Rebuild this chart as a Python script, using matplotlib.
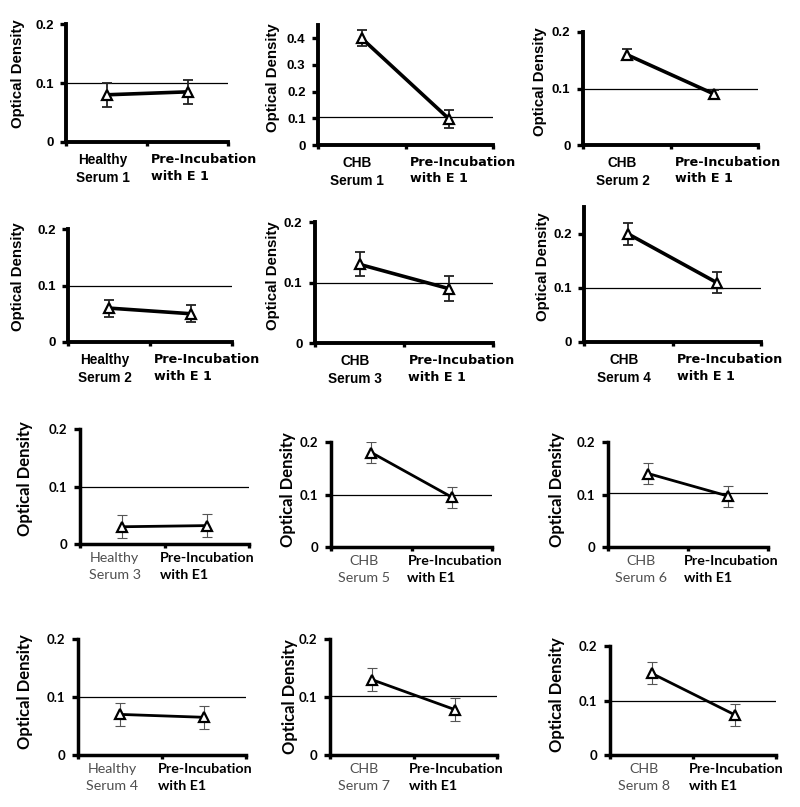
import matplotlib
matplotlib.use("Agg")
import matplotlib.pyplot as plt
from matplotlib.ticker import FixedLocator, NullFormatter

# ---------------- data ----------------
sample_labels = ["Healthy\nSerum 1", "CHB\nSerum 1", "CHB\nSerum 2",
                 "Healthy\nSerum 2", "CHB\nSerum 3", "CHB\nSerum 4",
                 "Healthy\nSerum 3", "CHB\nSerum 5", "CHB\nSerum 6",
                 "Healthy\nSerum 4", "CHB\nSerum 7", "CHB\nSerum 8"]
preinc_labels = ["Pre-Incubation\nwith E 1"] * 6 + ["Pre-Incubation\nwith E1"] * 6
od_serum = [0.080, 0.400, 0.160, 0.060, 0.130, 0.200,
            0.030, 0.180, 0.140, 0.070, 0.130, 0.150]
od_preinc = [0.085, 0.097, 0.090, 0.050, 0.090, 0.110,
             0.032, 0.095, 0.097, 0.065, 0.078, 0.074]
err_serum = [0.020, 0.030, 0.010, 0.015, 0.020, 0.020,
             0.020, 0.020, 0.020, 0.020, 0.020, 0.020]
err_preinc = [0.020, 0.033, 0.008, 0.015, 0.020, 0.020,
              0.020, 0.020, 0.020, 0.020, 0.020, 0.020]
cutoff = [0.100, 0.106, 0.100, 0.100, 0.100, 0.100,
          0.100, 0.100, 0.102, 0.100, 0.102, 0.100]
ymax = [0.2, 0.45, 0.2, 0.2, 0.2, 0.25,
        0.2, 0.2, 0.2, 0.2, 0.2, 0.2]
ytick_max = [0.2, 0.4, 0.2, 0.2, 0.2, 0.2,
             0.2, 0.2, 0.2, 0.2, 0.2, 0.2]
ylabel = "Optical Density"

# ---------------- layout (pixels: left, right, top, bottom) ----------------
W, H = 800, 807
rects_px = [(66, 228, 24, 142), (318, 493, 25, 145), (583, 758, 32, 145),
            (68, 232, 229, 342), (315, 493, 222, 343), (584, 761, 207, 342),
            (80, 249, 429, 544), (331, 492, 442, 547), (608, 768, 442, 547),
            (78, 246, 639, 755), (330, 497, 639, 755), (610, 776, 646, 755)]
ylabel_off = [41, 38, 36, 43, 35, 34, 47, 35, 43, 45, 32, 45]
ylabel_y = [0.58, 0.56, 0.56, 0.58, 0.56, 0.56, 0.57, 0.55, 0.55, 0.55, 0.5, 0.55]

fig = plt.figure(figsize=(W / 100, H / 100), dpi=100)
fig.patch.set_facecolor("white")

for i in range(12):
    l, r, t, b = rects_px[i]
    ax = fig.add_axes([l / W, 1 - b / H, (r - l) / W, (b - t) / H])
    top_style = i < 6
    if top_style:
        tick_font = dict(family="Liberation Sans", weight="bold", size=9.5)
        lab_font = dict(family="Liberation Sans", weight="bold", size=10.8)
        s_font = dict(family="Liberation Sans", weight="bold", size=9.8, color="black")
        p_font = dict(family="DejaVu Sans", weight="bold", size=9.2, color="black")
        spine_w, line_w, err_w, err_c = 2.8, 2.6, 1.3, "#222222"
        ls = 1.35
        x_s, x_p = 0.45, 1.05
    else:
        tick_font = dict(family="Lato", weight="bold", size=9.5)
        lab_font = dict(family="Lato", weight="bold", size=12)
        s_font = dict(family="Lato", weight="normal", size=10.3, color="#505050")
        p_font = dict(family="Lato", weight="bold", size=10.3, color="black")
        spine_w, line_w, err_w, err_c = 2.5, 2.0, 0.8, "#555555"
        ls = 1.5
        x_s, x_p = 0.41, 0.95

    xs = [0.5, 1.5]
    ax.axhline(cutoff[i], color="black", lw=0.9, zorder=1)
    ax.errorbar(xs, [od_serum[i], od_preinc[i]],
                yerr=[err_serum[i], err_preinc[i]],
                fmt="none", ecolor=err_c, elinewidth=err_w, capsize=3.5,
                capthick=err_w, zorder=2)
    ax.plot(xs, [od_serum[i], od_preinc[i]], color="black", lw=line_w,
            marker="^", markersize=7.5, markerfacecolor="white",
            markeredgecolor="black", markeredgewidth=1.6, zorder=3)

    ax.set_xlim(0, 2)
    ax.set_ylim(0, ymax[i])
    n = int(round(ytick_max[i] / 0.1))
    ax.set_yticks([k * 0.1 for k in range(n + 1)])
    ax.set_yticklabels(["0"] + [f"{k * 0.1:.1f}" for k in range(1, n + 1)], **tick_font)
    ax.xaxis.set_major_locator(FixedLocator([0, 1, 2]))
    ax.xaxis.set_major_formatter(NullFormatter())
    ax.tick_params(axis="x", direction="out", length=3, width=2.4, pad=2)
    ax.tick_params(axis="y", direction="out", length=4, width=2.4, pad=5)

    for side in ("top", "right"):
        ax.spines[side].set_visible(False)
    for side in ("left", "bottom"):
        ax.spines[side].set_linewidth(spine_w)
        ax.spines[side].set_capstyle("projecting")

    ax.set_ylabel(ylabel, **lab_font)
    ax.yaxis.set_label_coords(-ylabel_off[i] / (r - l), ylabel_y[i])

    gap = 11 if top_style else 8
    ax.annotate(sample_labels[i], xy=(x_s, 0), xycoords=("data", "axes fraction"),
                xytext=(0, -gap), textcoords="offset pixels",
                ha="center", va="top", multialignment="center",
                linespacing=ls, **s_font)
    ax.annotate(preinc_labels[i], xy=(x_p, 0),
                xycoords=("data", "axes fraction"),
                xytext=(0, -gap), textcoords="offset pixels",
                ha="left", va="top", multialignment="left",
                linespacing=ls, **p_font)

fig.savefig("out.png", dpi=100, facecolor="white")
